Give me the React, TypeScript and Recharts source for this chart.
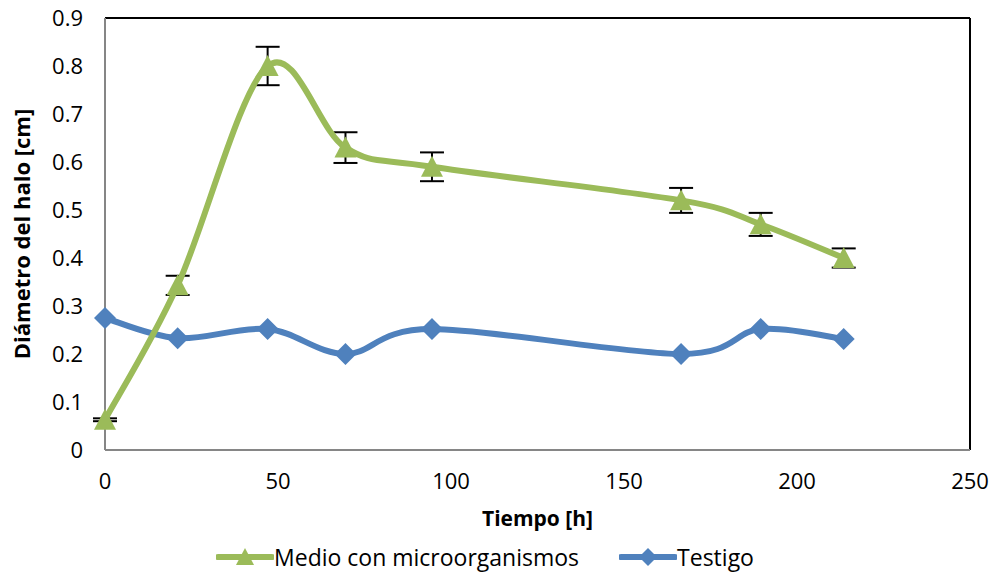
import { LineChart, Line, XAxis, YAxis, ErrorBar, ReferenceLine, Legend, Label } from 'recharts'

const tiempo = [0, 21, 47, 69.5, 94.5, 166.5, 189.5, 213.5]
const medio = [0.063, 0.343, 0.8, 0.63, 0.59, 0.52, 0.47, 0.4]
const medioErr = [0.003, 0.02, 0.04, 0.032, 0.03, 0.026, 0.024, 0.02]
const testigo = [0.275, 0.233, 0.252, 0.2, 0.252, 0.2, 0.252, 0.231]
const xTicks = [0, 50, 100, 150, 200, 250]
const yTicks = [0, 0.1, 0.2, 0.3, 0.4, 0.5, 0.6, 0.7, 0.8, 0.9]

const GREEN = '#9BBB59'
const BLUE = '#4F81BD'
const FONT = "'Open Sans', 'Noto Sans', sans-serif"

const data = tiempo.map((t, i) => ({
  t,
  medio: medio[i],
  err: medioErr[i],
  testigo: testigo[i]
}))

// excel style smoothed line (catmull-rom through the points)
const smooth = (ctx: any) => {
  let pts: number[][] = []
  return {
    areaStart() {},
    areaEnd() {},
    lineStart() {
      pts = []
    },
    point(x: number, y: number) {
      pts.push([+x, +y])
    },
    lineEnd() {
      if (!pts.length) return
      ctx.moveTo(pts[0][0], pts[0][1])
      for (let i = 0; i < pts.length - 1; i++) {
        const p0 = pts[i - 1] || pts[i]
        const p1 = pts[i]
        const p2 = pts[i + 1]
        const p3 = pts[i + 2] || p2
        ctx.bezierCurveTo(
          p1[0] + (p2[0] - p0[0]) / 6,
          p1[1] + (p2[1] - p0[1]) / 6,
          p2[0] - (p3[0] - p1[0]) / 6,
          p2[1] - (p3[1] - p1[1]) / 6,
          p2[0],
          p2[1]
        )
      }
    }
  }
}

const Triangle = ({ cx, cy, size = 10 }: any) => (
  <path
    d={`M${cx},${cy - size} L${cx + size},${cy + size * 0.9} L${cx - size},${cy + size * 0.9} Z`}
    fill={GREEN}
  />
)

const Diamond = ({ cx, cy, size = 10 }: any) => (
  <path
    d={`M${cx},${cy - size} L${cx + size},${cy} L${cx},${cy + size} L${cx - size},${cy} Z`}
    fill={BLUE}
  />
)

const LegendContent = () => (
  <div
    style={{
      display: 'flex',
      justifyContent: 'center',
      alignItems: 'center',
      fontFamily: FONT,
      fontSize: 23,
      color: '#000',
      gap: 40,
      marginTop: 6
    }}
  >
    <div style={{ display: 'flex', alignItems: 'center' }}>
      <svg width={58} height={26}>
        <line x1={2} y1={13} x2={56} y2={13} stroke={GREEN} strokeWidth={6} strokeLinecap="round" />
        <Triangle cx={29} cy={13} size={9} />
      </svg>
      <span>Medio con microorganismos</span>
    </div>
    <div style={{ display: 'flex', alignItems: 'center' }}>
      <svg width={58} height={26}>
        <line x1={2} y1={13} x2={56} y2={13} stroke={BLUE} strokeWidth={6} strokeLinecap="round" />
        <Diamond cx={29} cy={13} size={9} />
      </svg>
      <span>Testigo</span>
    </div>
  </div>
)

export default function App() {
  return (
    <div style={{ position: 'absolute', left: 0, top: 0, width: 993, height: 573, background: '#fff' }}>
      <LineChart
        width={993}
        height={573}
        data={data}
        margin={{ top: 18, right: 23, bottom: 0, left: 0 }}
      >
        <XAxis
          dataKey="t"
          type="number"
          domain={[0, 250]}
          ticks={xTicks}
          interval={0}
          height={85}
          tickSize={0}
          tickMargin={23}
          axisLine={{ stroke: '#868686', strokeWidth: 2 }}
          tickLine={false}
          tick={{ fill: '#000', fontSize: 22, fontFamily: FONT }}
        >
          <Label
            content={({ viewBox }: any) => (
              <text
                x={viewBox.x + viewBox.width / 2}
                y={viewBox.y + 76}
                textAnchor="middle"
                fontFamily={FONT}
                fontSize={21}
                fontWeight="bold"
                fill="#000"
              >
                Tiempo [h]
              </text>
            )}
          />
        </XAxis>
        <YAxis
          type="number"
          domain={[0, 0.9]}
          ticks={yTicks}
          interval={0}
          width={105}
          tickSize={0}
          tickMargin={22}
          axisLine={{ stroke: '#868686', strokeWidth: 2 }}
          tickLine={false}
          tick={{ fill: '#000', fontSize: 22, fontFamily: FONT }}
        >
          <Label
            content={({ viewBox }: any) => (
              <text
                x={30}
                y={viewBox.y + viewBox.height / 2}
                transform={`rotate(-90, 30, ${viewBox.y + viewBox.height / 2})`}
                textAnchor="middle"
                fontFamily={FONT}
                fontSize={22}
                fontWeight="bold"
                fill="#000"
              >
                Diámetro del halo [cm]
              </text>
            )}
          />
        </YAxis>
        <ReferenceLine y={0.9} stroke="#000" strokeWidth={2} ifOverflow="visible" />
        <ReferenceLine x={250} stroke="#000" strokeWidth={2} ifOverflow="visible" />
        <Legend verticalAlign="bottom" height={38} content={<LegendContent />} />
        <Line
          dataKey="testigo"
          type={smooth as any}
          stroke={BLUE}
          strokeWidth={6}
          dot={(p: any) => <Diamond key={p.index} cx={p.cx} cy={p.cy} size={11} />}
          isAnimationActive={false}
        />
        <Line
          dataKey="medio"
          type={smooth as any}
          stroke={GREEN}
          strokeWidth={6}
          dot={(p: any) => <Triangle key={p.index} cx={p.cx} cy={p.cy} size={11} />}
          isAnimationActive={false}
        >
          <ErrorBar dataKey="err" width={12} stroke="#000" strokeWidth={2} direction="y" />
        </Line>
      </LineChart>
    </div>
  )
}
